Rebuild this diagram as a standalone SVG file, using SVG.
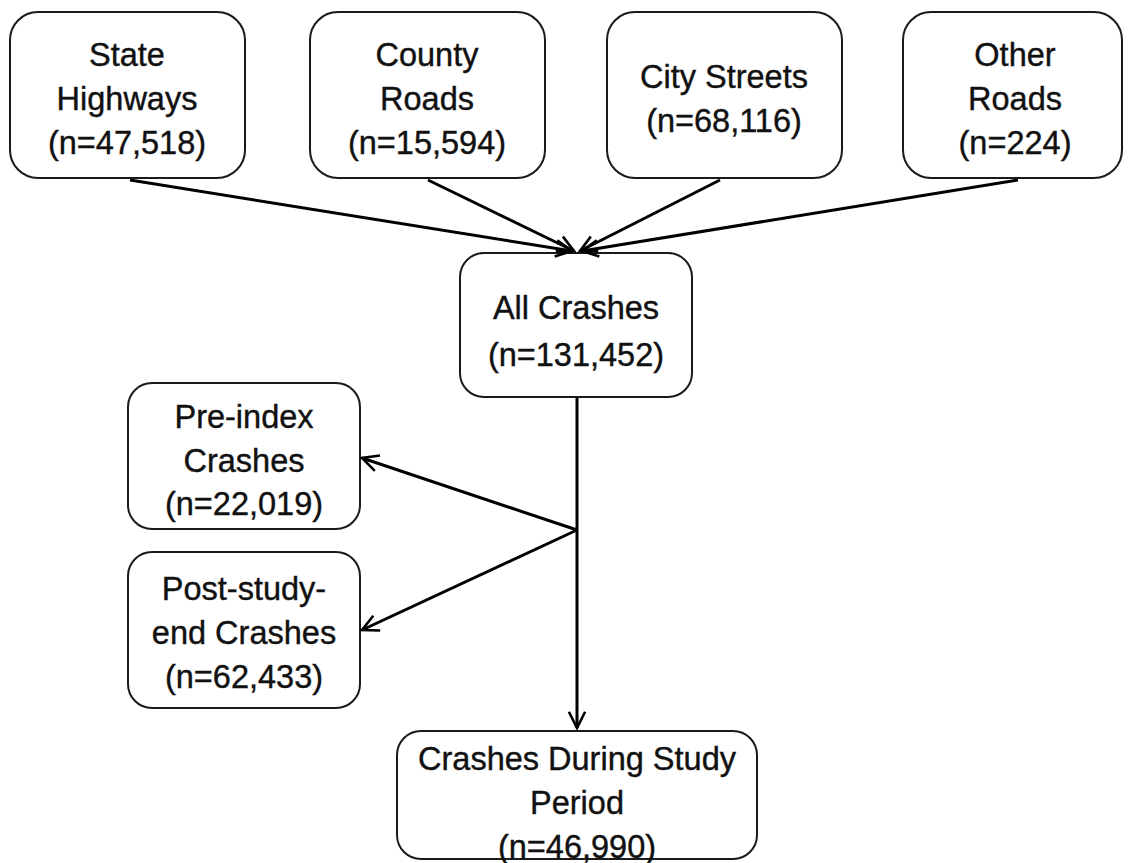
<svg xmlns="http://www.w3.org/2000/svg" width="1130" height="863" viewBox="0 0 1130 863">
<style>
.box{fill:#fff;stroke:#1a1a1a;stroke-width:2}
text{font-family:"Liberation Sans",Arial,sans-serif;font-size:32.5px;fill:#111;stroke:#111;stroke-width:0.4;text-anchor:middle}
.c line{stroke:#000;stroke-width:3;fill:none}
</style>
<defs>
<marker id="ah" viewBox="0 0 12 12" refX="11" refY="6" markerWidth="6.5" markerHeight="6.5" markerUnits="strokeWidth" orient="auto">
<path d="M1,1 L11,6 L1,11" fill="none" stroke="#000" stroke-width="1.6"/>
</marker>
</defs>
<rect width="1130" height="863" fill="#fff"/>
<g id="state-highways">
<rect class="box" x="10" y="12" width="235" height="166" rx="28"/>
<text x="127" y="66">State</text>
<text x="127" y="110">Highways</text>
<text x="127" y="154">(n=47,518)</text>
</g>
<g id="county-roads">
<rect class="box" x="310" y="12" width="235" height="166" rx="28"/>
<text x="427" y="66">County</text>
<text x="427" y="110">Roads</text>
<text x="427" y="154">(n=15,594)</text>
</g>
<g id="city-streets">
<rect class="box" x="607" y="12" width="235" height="166" rx="28"/>
<text x="724" y="88">City Streets</text>
<text x="724" y="132">(n=68,116)</text>
</g>
<g id="other-roads">
<rect class="box" x="903" y="12" width="219" height="166" rx="28"/>
<text x="1015" y="66">Other</text>
<text x="1015" y="110">Roads</text>
<text x="1015" y="154">(n=224)</text>
</g>
<g id="all-crashes">
<rect class="box" x="460" y="253" width="232" height="144" rx="24"/>
<text x="576" y="319">All Crashes</text>
<text x="576" y="366">(n=131,452)</text>
</g>
<g id="pre-index">
<rect class="box" x="128" y="383" width="232" height="146" rx="24"/>
<text x="244" y="428">Pre-index</text>
<text x="244" y="472">Crashes</text>
<text x="244" y="515">(n=22,019)</text>
</g>
<g id="post-study">
<rect class="box" x="128" y="552" width="232" height="156" rx="24"/>
<text x="244" y="600">Post-study-</text>
<text x="244" y="644">end Crashes</text>
<text x="244" y="688">(n=62,433)</text>
</g>
<g id="study-period">
<rect class="box" x="397" y="731" width="360" height="128" rx="24"/>
<text x="577" y="770">Crashes During Study</text>
<text x="577" y="814">Period</text>
<text x="577" y="858">(n=46,990)</text>
</g>
<g class="c" id="connectors">
<line x1="130" y1="180" x2="572" y2="251" marker-end="url(#ah)"/>
<line x1="428" y1="180" x2="574" y2="251" marker-end="url(#ah)"/>
<line x1="720" y1="180" x2="580" y2="251" marker-end="url(#ah)"/>
<line x1="1018" y1="180" x2="582" y2="251" marker-end="url(#ah)"/>
<line x1="577" y1="398" x2="577" y2="728" marker-end="url(#ah)"/>
<line x1="577" y1="530" x2="362" y2="458" marker-end="url(#ah)"/>
<line x1="577" y1="530" x2="362" y2="630" marker-end="url(#ah)"/>
</g>
</svg>
